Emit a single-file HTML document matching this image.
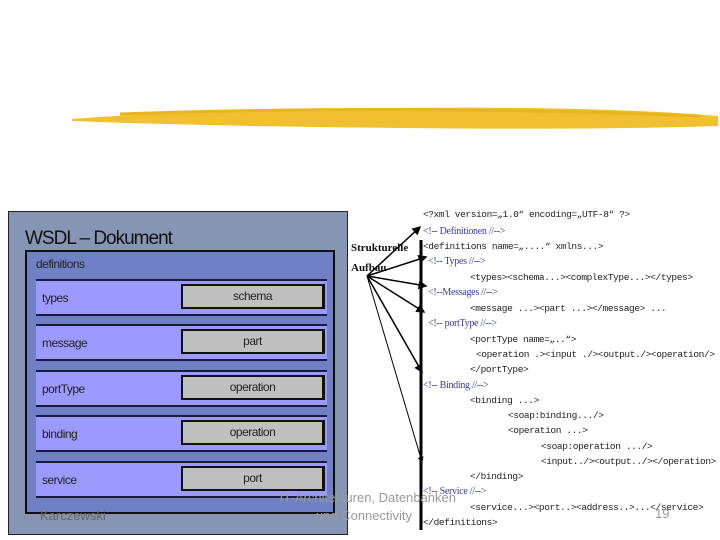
<!DOCTYPE html>
<html><head><meta charset="utf-8"><style>
body{margin:0;width:720px;height:540px;background:#fff;position:relative;overflow:hidden;font-family:"Liberation Sans",sans-serif}
.a{position:absolute}
.row{position:absolute;left:36px;width:291px;height:33px;background:#9b9bff;border-top:2px solid #1a1a40;border-bottom:2px solid #1a1a40}
.row span{position:absolute;left:6px;top:10px;font-size:12px;color:#222;letter-spacing:-0.5px}
.g{position:absolute;left:145px;top:3px;width:139px;height:21px;background:#c0c0c0;border:2px solid #111;border-right-width:3px;text-align:center;font-size:12px;line-height:21px;color:#222;letter-spacing:-0.5px}
.c{position:absolute;font-family:"Liberation Mono",monospace;font-size:9.5px;color:#222;white-space:pre;line-height:12px;letter-spacing:-0.4px}
.m{position:absolute;font-family:"Liberation Serif",serif;font-size:10px;color:#3a3a9a;white-space:pre;line-height:12px;letter-spacing:-0.3px}
.f{position:absolute;color:#999;font-size:13px;white-space:pre}
</style></head><body>
<svg class="a" style="left:0;top:0" width="720" height="540">
<path d="M72 119 Q200 109 400 108 Q600 106 718 116 L718 126 Q600 130 400 128 Q200 126 72 121 Z" fill="#f0c030"/>
<path d="M120 114 Q400 104 700 116" stroke="#e8b420" stroke-width="3" fill="none"/>
</svg>
<div class="a" style="left:8px;top:211px;width:338px;height:322px;background:#8795b5;border:1px solid #222"></div>
<div class="a" style="left:25px;top:228px;font-size:19px;color:#111;letter-spacing:-1px">WSDL – Dokument</div>
<div class="a" style="left:25px;top:250px;width:306px;height:260px;background:#7080c4;border:2px solid #111"></div>
<div class="a" style="left:36px;top:257px;font-size:12px;color:#222;letter-spacing:-0.5px">definitions</div>
<div class="row" style="top:279px"><span>types</span><div class="g">schema</div></div>
<div class="row" style="top:324px"><span>message</span><div class="g">part</div></div>
<div class="row" style="top:370px"><span>portType</span><div class="g">operation</div></div>
<div class="row" style="top:415px"><span>binding</span><div class="g">operation</div></div>
<div class="row" style="top:461px"><span>service</span><div class="g">port</div></div>
<div class="a" style="left:351px;top:238px;font-family:'Liberation Serif',serif;font-weight:bold;font-size:11px;line-height:20px;color:#111">Strukturelle<br>Aufbau</div>
<svg class="a" style="left:0;top:0" width="720" height="540">
<defs><marker id="ar" markerWidth="6" markerHeight="6" refX="5" refY="3" orient="auto"><path d="M0 0L6 3L0 6Z" fill="#000"/></marker></defs>
<line x1="421" y1="240" x2="421" y2="530" stroke="#000" stroke-width="3"/>
<g stroke="#000" stroke-width="1.5" marker-end="url(#ar)">
<line x1="367" y1="276" x2="420" y2="227"/>
<line x1="367" y1="276" x2="426" y2="257"/>
<line x1="367" y1="276" x2="426" y2="286"/>
<line x1="367" y1="276" x2="424" y2="312"/>
<line x1="367" y1="276" x2="422" y2="372"/>
<line x1="367" y1="276" x2="422" y2="462" stroke-width="1"/>
</g>
</svg>
<div class="c" style="left:423px;top:209px">&lt;?xml version=„1.0“ encoding=„UTF-8“ ?&gt;</div>
<div class="m" style="left:423px;top:226px">&lt;!-- Definitionen //--&gt;</div>
<div class="c" style="left:423px;top:241px">&lt;definitions name=„....“ xmlns...&gt;</div>
<div class="m" style="left:428px;top:256px">&lt;!-- Types //--&gt;</div>
<div class="c" style="left:470px;top:272px">&lt;types&gt;&lt;schema...&gt;&lt;complexType...&gt;&lt;/types&gt;</div>
<div class="m" style="left:428px;top:287px">&lt;!--Messages //--&gt;</div>
<div class="c" style="left:470px;top:303px">&lt;message ...&gt;&lt;part ...&gt;&lt;/message&gt; ...</div>
<div class="m" style="left:428px;top:318px">&lt;!-- portType //--&gt;</div>
<div class="c" style="left:470px;top:334px">&lt;portType name=„..“&gt;</div>
<div class="c" style="left:476px;top:349px">&lt;operation .&gt;&lt;input ./&gt;&lt;output./&gt;&lt;operation/&gt;</div>
<div class="c" style="left:470px;top:364px">&lt;/portType&gt;</div>
<div class="m" style="left:423px;top:380px">&lt;!-- Binding //--&gt;</div>
<div class="c" style="left:470px;top:395px">&lt;binding ...&gt;</div>
<div class="c" style="left:508px;top:410px">&lt;soap:binding.../&gt;</div>
<div class="c" style="left:508px;top:425px">&lt;operation ...&gt;</div>
<div class="c" style="left:541px;top:441px">&lt;soap:operation .../&gt;</div>
<div class="c" style="left:541px;top:456px">&lt;input../&gt;&lt;output../&gt;&lt;/operation&gt;</div>
<div class="c" style="left:470px;top:471px">&lt;/binding&gt;</div>
<div class="m" style="left:423px;top:486px">&lt;!-- Service //--&gt;</div>
<div class="c" style="left:470px;top:502px">&lt;service...&gt;&lt;port..&gt;&lt;address..&gt;...&lt;/service&gt;</div>
<div class="c" style="left:423px;top:517px">&lt;/definitions&gt;</div>
<div class="f" style="left:40px;top:508px;color:#666">Karczewski</div>
<div class="f" style="left:262px;top:490px;width:194px;text-align:right">IT-Architekturen, Datenbanken</div>
<div class="f" style="left:262px;top:508px;width:150px;text-align:right">und Connectivity</div>
<div class="f" style="left:655px;top:506px">19</div>
</body></html>
